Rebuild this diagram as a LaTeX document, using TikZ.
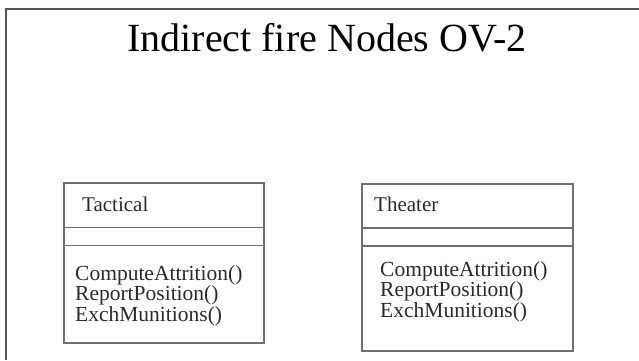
\documentclass[tikz,border=0pt]{standalone}
\usepackage{fontspec}
\setmainfont{Liberation Serif}
\definecolor{framegray}{HTML}{555555}
\definecolor{boxgray}{HTML}{707070}
\definecolor{textgray}{HTML}{2A2A2A}
\tikzset{
  classbox/.style={draw=boxgray, line width=1.3pt, inner sep=0pt, outer sep=0pt},
  divider/.style={draw=boxgray, line width=1.3pt},
  classname/.style={font=\fontsize{21}{23}\selectfont, text=textgray, inner sep=0pt, anchor=base west},
  methods/.style={font=\fontsize{21.5}{20.5}\selectfont, text=textgray, inner sep=0pt, align=left, anchor=north west},
  titletext/.style={font=\fontsize{40}{44}\selectfont, inner sep=0pt, anchor=base}
}
\begin{document}
\begin{tikzpicture}[x=1pt,y=-1pt]
  \useasboundingbox (0,0) rectangle (639,360);
  % page frame (top and left edges)
  \coordinate (ftl) at (6,8.5);
  \coordinate (ftr) at (639,8.5);
  \coordinate (fbl) at (6,360);
  \draw[framegray, line width=2pt] (ftr) -- (ftl) -- (fbl);

  % title
  \node[titletext] (title) at (327,51) {Indirect fire Nodes OV-2};

  % class Tactical
  \node[classbox, minimum width=200pt, minimum height=160pt] (tac) at (164,263) {};
  \coordinate (tacA) at (64,227.5);
  \coordinate (tacB) at (64,245.5);
  \draw[divider] (tacA) -- (tacA -| tac.east);
  \draw[divider] (tacB) -- (tacB -| tac.east);
  \node[classname] (tacname) at (82,211) {Tactical};
  \node[methods] (tacops) at (75,265) {ComputeAttrition()\\ReportPosition()\\ExchMunitions()};

  % class Theater
  \node[classbox, minimum width=211pt, minimum height=167pt] (the) at (467.5,267.5) {};
  \coordinate (theA) at (362,228);
  \coordinate (theB) at (362,246);
  \draw[divider] (theA) -- (theA -| the.east);
  \draw[divider] (theB) -- (theB -| the.east);
  \node[classname] (thename) at (374,211) {Theater};
  \node[methods] (theops) at (380,261) {ComputeAttrition()\\ReportPosition()\\ExchMunitions()};
\end{tikzpicture}
\end{document}
